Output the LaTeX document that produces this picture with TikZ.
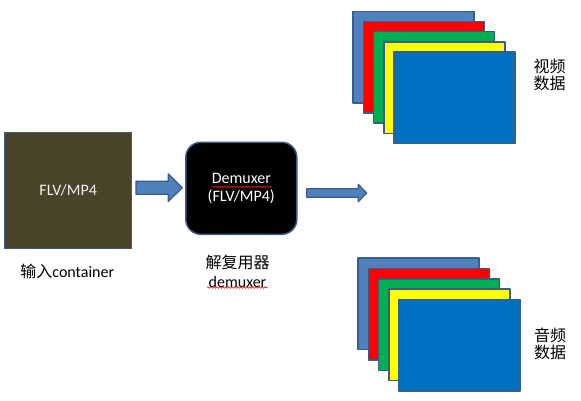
\documentclass[tikz,border=0pt]{standalone}
\usepackage{fontspec}
\setmainfont{Carlito}
\newfontfamily\cjk{Noto Sans CJK SC}
\usetikzlibrary{calc,decorations.pathmorphing}

\definecolor{frameblue}{HTML}{385D8A}
\definecolor{paleblue}{HTML}{4F81BD}
\definecolor{boxolive}{HTML}{494429}
\definecolor{fillred}{HTML}{FF0000}
\definecolor{fillgreen}{HTML}{00B050}
\definecolor{fillyellow}{HTML}{FFFF00}
\definecolor{fillblue}{HTML}{0070C0}

% block arrow: start, tip, half shaft, half head, head length
\newcommand{\blockarrow}[5]{%
  \draw[blockarr] ($(#1)+(0,-#3)$) -- ($(#2)+(-#5,-#3)$) -- ($(#2)+(-#5,-#4)$)
    -- (#2) -- ($(#2)+(-#5,#4)$) -- ($(#2)+(-#5,#3)$) -- ($(#1)+(0,#3)$) -- cycle;}

\begin{document}
\begin{tikzpicture}[x=1pt, y=-1pt, line join=round,
  every node/.style={font=\fontsize{16}{17}\selectfont},
  frame/.style={draw=frameblue, line width=1.5pt, inner sep=0pt},
  blockarr/.style={draw=frameblue, line width=1.2pt, fill=paleblue},
  typo/.style={red, decorate, decoration={snake, amplitude=0.8pt, segment length=3pt}, line width=0.6pt}]

  \useasboundingbox (0,0) rectangle (581,401);

  % input container
  \node[frame, fill=boxolive, text=white!92!boxolive, minimum width=127, minimum height=116] (flv) at (68.2,190.5) {FLV/MP4};
  \node (flvlabel) at (67.3,271.7) {{\cjk 输入}container};

  % demuxer
  \node[frame, fill=black, text=white, rounded corners=15pt, minimum width=111, minimum height=92, align=center, font=\fontsize{16}{18.5}\selectfont] (demux) at (241.3,188.3) {Demuxer\\(FLV/MP4)};
  \node[align=center, font=\fontsize{16}{19}\selectfont] (demuxlabel) at (237.5,271.2) {{\cjk 解复用器}\\demuxer};
  \draw[typo] (212,186.8) -- (271,186.8);
  \draw[typo] (207,287.5) -- (267,287.5);

  % arrows
  \coordinate (a1s) at (136,187.7);
  \coordinate (a1e) at (182.3,187.7);
  \coordinate (a2s) at (306.7,193);
  \coordinate (a2e) at (366.7,193);
  \blockarrow{a1s}{a1e}{6.5}{13.8}{14}
  \blockarrow{a2s}{a2e}{4.2}{8.7}{8.4}

  % frame stacks
  \foreach \c [count=\i from 0] in {paleblue,fillred,fillgreen,fillyellow,fillblue} {
    \node[frame, fill=\c, anchor=north west, minimum width=121, minimum height=91.5] (video\i) at (352.4+10.25*\i,10.8+10.1*\i) {};
    \node[frame, fill=\c, anchor=north west, minimum width=121, minimum height=91.5] (audio\i) at (357.4+10.25*\i,257.4+10.3*\i) {};
  }
  \node[align=center, font=\fontsize{16}{17}\cjk] (videolabel) at (549.5,75) {视频\\数据};
  \node[align=center, font=\fontsize{16}{17}\cjk] (audiolabel) at (550,344) {音频\\数据};

\end{tikzpicture}
\end{document}
